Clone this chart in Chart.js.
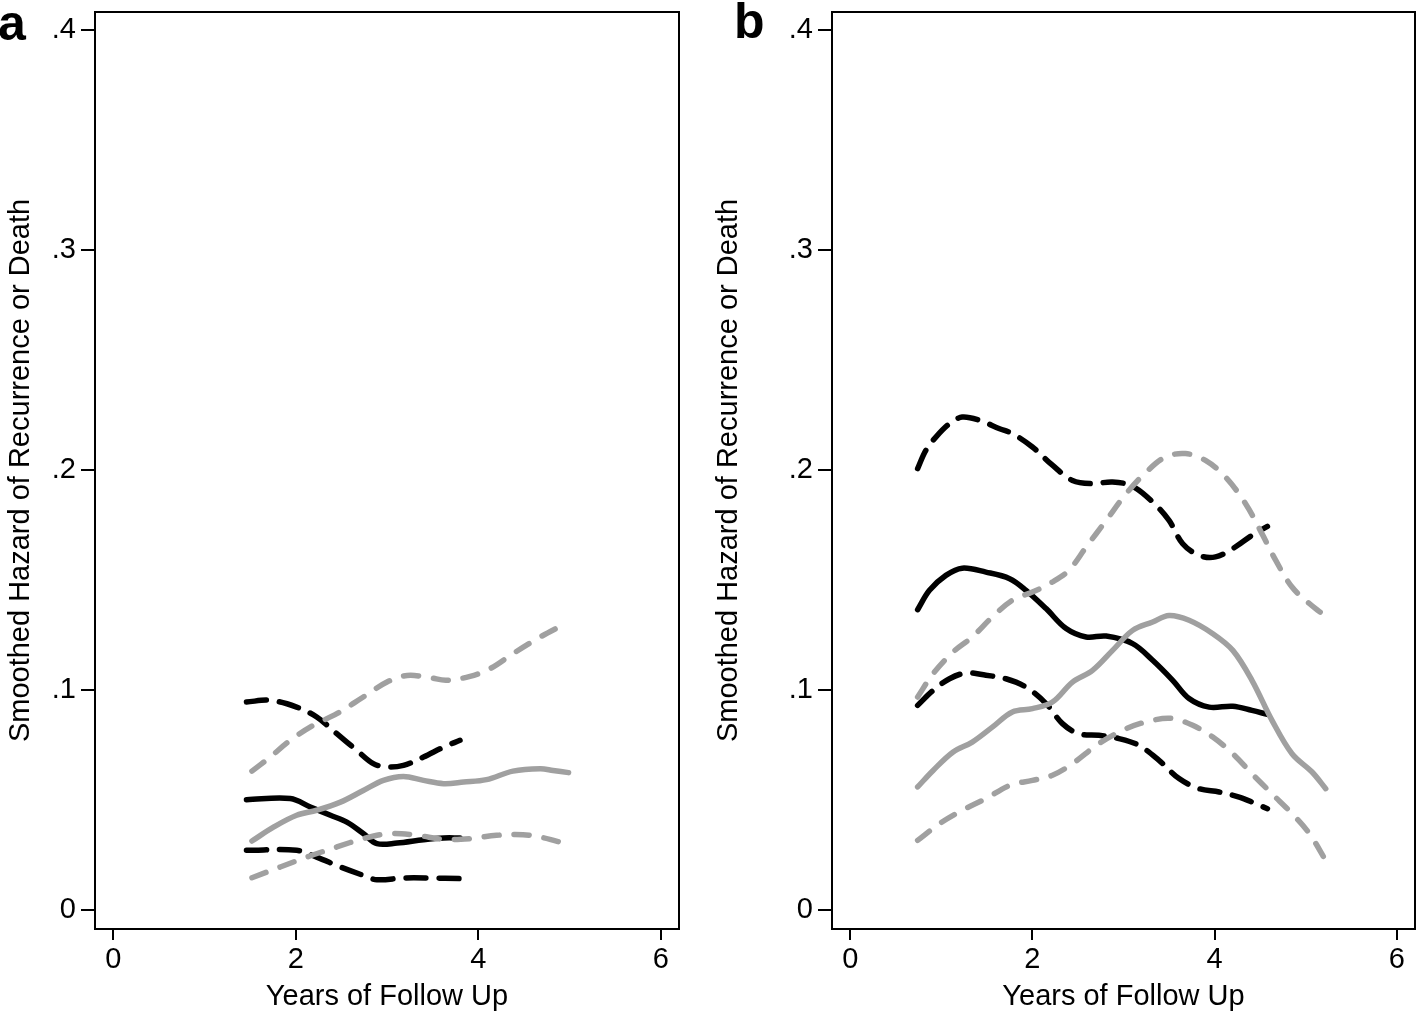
<!DOCTYPE html>
<html>
<head>
<meta charset="utf-8">
<script src="https://cdn.jsdelivr.net/npm/chart.js@4.4.1/dist/chart.umd.min.js"></script>
<style>
  html, body { margin: 0; padding: 0; background: #fff; }
  body { width: 1417px; height: 1014px; position: relative; overflow: hidden; }
  .panel { position: absolute; top: 0; height: 1014px; }
  .tag { position: absolute; font: bold 50px "Liberation Sans", Arial, sans-serif; color: #000; line-height: 1; }
</style>
</head>
<body>
<div class="panel" id="wrapA" style="left:0;width:708px"><canvas id="chartA"></canvas></div>
<div class="panel" id="wrapB" style="left:708px;width:709px"><canvas id="chartB"></canvas></div>
<div class="tag" style="left:-2px;top:-2px">a</div>
<div class="tag" style="left:734px;top:-4px">b</div>
<script>
// ---- axes ----
const xTicks = [0, 2, 4, 6];
const yTicks = [0, 0.1, 0.2, 0.3, 0.4];
const xTitle = 'Years of Follow Up';
const yTitle = 'Smoothed Hazard of Recurrence or Death';

// ---- panel a (years, hazard) ----
const aBlackUpperYrs = [1.46, 1.72, 2.01, 2.23, 2.45, 2.67, 2.85, 3.00, 3.18, 3.40, 3.62, 3.80];
const aBlackUpper    = [.0945, .0953, .0922, .0877, .0801, .0725, .0665, .0650, .0657, .0695, .0740, .0771];
const aBlackMidYrs   = [1.46, 1.94, 2.16, 2.38, 2.56, 2.74, 2.89, 3.11, 3.40, 3.62, 3.80];
const aBlackMid      = [.0501, .0506, .0468, .0430, .0399, .0347, .0301, .0304, .0319, .0327, .0327];
const aBlackLowerYrs = [1.46, 2.01, 2.23, 2.49, 2.74, 2.89, 3.18, 3.47, 3.80];
const aBlackLower    = [.0271, .0271, .0240, .0195, .0157, .0137, .0145, .0145, .0142];
const aGrayUpperYrs  = [1.52, 1.72, 1.94, 2.19, 2.45, 2.74, 3.00, 3.22, 3.47, 3.65, 3.91, 4.13, 4.38, 4.68, 4.96];
const aGrayUpper     = [.0631, .0695, .0771, .0839, .0892, .0968, .1036, .1066, .1056, .1044, .1062, .1097, .1165, .1241, .1303];
const aGrayMidYrs    = [1.52, 1.76, 2.01, 2.23, 2.49, 2.74, 2.96, 3.18, 3.40, 3.62, 3.84, 4.09, 4.38, 4.68, 4.82, 4.99];
const aGrayMid       = [.0313, .0377, .0430, .0453, .0490, .0543, .0589, .0607, .0589, .0574, .0581, .0592, .0631, .0642, .0634, .0624];
const aGrayLowerYrs  = [1.52, 1.83, 2.12, 2.45, 2.74, 3.03, 3.33, 3.62, 3.91, 4.20, 4.49, 4.71, 4.96];
const aGrayLower     = [.0146, .0195, .0240, .0286, .0324, .0347, .0339, .0321, .0324, .0339, .0342, .0328, .0301];

// ---- panel b (years, hazard) ----
const bBlackUpperYrs = [0.74, 0.83, 0.94, 1.09, 1.23, 1.42, 1.64, 1.78, 2.00, 2.22, 2.44, 2.66, 2.88, 3.10, 3.32, 3.50, 3.65, 3.83, 4.01, 4.20, 4.41, 4.58];
const bBlackUpper    = [.2007, .2090, .2150, .2211, .2241, .2226, .2188, .2166, .2105, .2022, .1953, .1938, .1946, .1926, .1855, .1771, .1665, .1612, .1605, .1643, .1703, .1744];
const bBlackMidYrs   = [0.74, 0.87, 1.05, 1.23, 1.49, 1.75, 1.93, 2.15, 2.37, 2.59, 2.81, 3.10, 3.32, 3.54, 3.72, 3.94, 4.20, 4.41, 4.58];
const bBlackMid      = [.1365, .1453, .1521, .1554, .1536, .1506, .1453, .1370, .1279, .1241, .1245, .1211, .1135, .1044, .0961, .0922, .0926, .0907, .0889];
const bBlackLowerYrs = [0.74, 0.91, 1.09, 1.27, 1.49, 1.71, 1.93, 2.15, 2.33, 2.51, 2.73, 2.95, 3.17, 3.39, 3.61, 3.83, 4.05, 4.27, 4.45, 4.58];
const bBlackLower    = [.0930, .0998, .1051, .1077, .1067, .1051, .1013, .0938, .0847, .0801, .0794, .0779, .0748, .0680, .0597, .0551, .0536, .0513, .0483, .0460];
const bGrayUpperYrs  = [0.74, 0.91, 1.13, 1.34, 1.56, 1.78, 2.00, 2.22, 2.40, 2.59, 2.81, 3.03, 3.25, 3.46, 3.68, 3.90, 4.12, 4.34, 4.52, 4.67, 4.85, 5.04, 5.18];
const bGrayUpper     = [.0968, .1074, .1173, .1241, .1332, .1408, .1445, .1491, .1544, .1650, .1771, .1893, .1991, .2059, .2075, .2044, .1968, .1847, .1711, .1590, .1468, .1393, .1347];
const bGrayMidYrs    = [0.74, 0.91, 1.13, 1.34, 1.56, 1.78, 2.00, 2.22, 2.44, 2.66, 2.88, 3.10, 3.32, 3.50, 3.72, 3.98, 4.20, 4.41, 4.63, 4.85, 5.07, 5.22];
const bGrayMid       = [.0559, .0634, .0718, .0763, .0831, .0900, .0915, .0945, .1036, .1089, .1180, .1271, .1309, .1339, .1317, .1256, .1180, .1044, .0862, .0710, .0627, .0551];
const bGrayLowerYrs  = [0.74, 0.98, 1.23, 1.49, 1.75, 2.00, 2.22, 2.44, 2.73, 3.03, 3.32, 3.54, 3.76, 3.98, 4.20, 4.41, 4.63, 4.85, 5.04, 5.22];
const bGrayLower     = [.0316, .0392, .0453, .0506, .0566, .0589, .0612, .0665, .0756, .0824, .0862, .0870, .0839, .0786, .0710, .0619, .0528, .0438, .0347, .0225];

// ---- styling ----
const BLACK = '#000000';
const GRAY = '#a0a0a0';
const FONT = '"Liberation Sans", Arial, Helvetica, sans-serif';
const FSIZE = 29;

const pts = (xs, ys) => xs.map((x, i) => ({ x, y: ys[i] }));
const fmtY = v => v === 0 ? '0' : String(+v.toFixed(1)).replace(/^0\./, '.');

function series(xs, ys, color, dashed) {
  return {
    data: pts(xs, ys),
    borderColor: color,
    borderWidth: 5.5,
    borderDash: dashed ? (color === BLACK ? [20, 13] : [15, 15]) : [],
    borderCapStyle: 'round',
    borderJoinStyle: 'round',
    pointRadius: 0,
    tension: 0.35,
    fill: false,
  };
}

// outer frame round the plot region
const frame = {
  id: 'frame',
  afterDatasetsDraw(chart) {
    const { ctx, chartArea: a } = chart;
    ctx.save();
    ctx.strokeStyle = '#000';
    ctx.lineWidth = 2;
    ctx.strokeRect(a.left, a.top, a.right - a.left, a.bottom - a.top);
    ctx.restore();
  }
};

function makeChart(id, yAxisWidth, padRight, sets) {
  return new Chart(document.getElementById(id), {
    type: 'line',
    data: { datasets: sets },
    plugins: [frame],
    options: {
      animation: false,
      responsive: true,
      maintainAspectRatio: false,
      layout: { padding: { left: 0, right: padRight, top: 12, bottom: 0 } },
      plugins: { legend: { display: false }, tooltip: { enabled: false } },
      scales: {
        x: {
          type: 'linear', min: -0.2, max: 6.2,
          afterBuildTicks: s => { s.ticks = xTicks.map(v => ({ value: v })); },
          afterFit: s => { s.height = 85; s.paddingLeft = 0; s.paddingRight = 0; },
          grid: { drawOnChartArea: false, drawTicks: true, tickLength: 11, color: '#000', lineWidth: 2 },
          border: { display: true, color: '#000', width: 2 },
          ticks: { color: '#000', font: { family: FONT, size: FSIZE }, padding: 3, maxRotation: 0, autoSkip: false },
          title: { display: true, text: xTitle, color: '#000', font: { family: FONT, size: FSIZE }, padding: { top: 0, bottom: 0 } }
        },
        y: {
          type: 'linear', min: -0.0087, max: 0.4083,
          afterBuildTicks: s => { s.ticks = yTicks.map(v => ({ value: v })); },
          afterFit: s => { s.width = yAxisWidth; s.paddingTop = 0; s.paddingBottom = 0; },
          grid: { drawOnChartArea: false, drawTicks: true, tickLength: 14, color: '#000', lineWidth: 2 },
          border: { display: true, color: '#000', width: 2 },
          ticks: { color: '#000', font: { family: FONT, size: FSIZE }, padding: 5, callback: v => fmtY(v), autoSkip: false },
          title: { display: true, text: yTitle, color: '#000', font: { family: FONT, size: FSIZE }, padding: { top: 4, bottom: 0 } }
        }
      }
    }
  });
}

makeChart('chartA', 95, 29, [
  series(aGrayUpperYrs, aGrayUpper, GRAY, true),
  series(aGrayMidYrs, aGrayMid, GRAY, false),
  series(aGrayLowerYrs, aGrayLower, GRAY, true),
  series(aBlackUpperYrs, aBlackUpper, BLACK, true),
  series(aBlackMidYrs, aBlackMid, BLACK, false),
  series(aBlackLowerYrs, aBlackLower, BLACK, true),
]);

makeChart('chartB', 124, 2, [
  series(bGrayUpperYrs, bGrayUpper, GRAY, true),
  series(bGrayMidYrs, bGrayMid, GRAY, false),
  series(bGrayLowerYrs, bGrayLower, GRAY, true),
  series(bBlackUpperYrs, bBlackUpper, BLACK, true),
  series(bBlackMidYrs, bBlackMid, BLACK, false),
  series(bBlackLowerYrs, bBlackLower, BLACK, true),
]);
</script>
</body>
</html>
